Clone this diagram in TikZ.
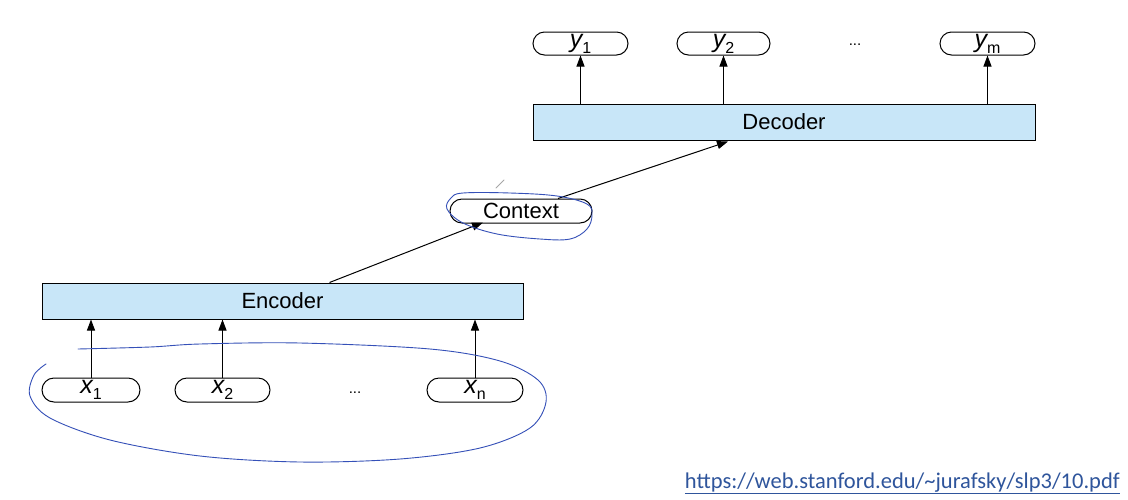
\documentclass[tikz,border=0pt]{standalone}
\usepackage{fontspec}
\setmainfont{Liberation Sans}
\newfontfamily\urlfont{Carlito}
\usetikzlibrary{arrows.meta,calc}
\definecolor{boxblue}{HTML}{C8E6F8}
\definecolor{penblue}{HTML}{3550B8}
\definecolor{linkblue}{HTML}{2F559C}
\begin{document}
\begin{tikzpicture}[x=1pt,y=-1pt,
  pill/.style={draw=black,line width=1pt,rounded corners=11.5pt,minimum height=23pt,inner sep=0pt,font=\fontsize{22}{24}\selectfont},
  bar/.style={draw=black,line width=1pt,fill=boxblue,minimum height=36pt,inner sep=0pt,font=\fontsize{22}{24}\selectfont},
  arr/.style={line width=1pt,-{Triangle[length=11pt,width=8pt]}},
  pen/.style={draw=penblue,line width=0.9pt,line cap=round,line join=round},
  dots/.style={font=\fontsize{15}{16}\selectfont}]
\useasboundingbox (0,0) rectangle (1128,499);
\fill[white] (0,0) rectangle (1128,499);
\newcommand{\lab}[2]{{\fontsize{25}{25}\selectfont\itshape #1}\raisebox{-6pt}{\fontsize{16}{16}\selectfont #2}}
% top row
\node[pill,minimum width=95pt] (y1) at (580.5,43.5) {\lab{y}{1}};
\node[pill,minimum width=93pt] (y2) at (723.5,43.5) {\lab{y}{2}};
\node[pill,minimum width=95pt] (ym) at (987.5,43.5) {\lab{y}{m}};
\node[dots] (ydots) at (855,45) {...};
\node[bar,minimum width=502pt] (dec) at (784,122) {Decoder};
% context
\node[pill,minimum width=142pt,minimum height=24pt,rounded corners=12pt] (ctx) at (521,211) {Context};
% encoder
\node[bar,minimum width=481pt] (enc) at (282.5,301) {Encoder};
\node[pill,minimum width=98pt,minimum height=24pt,rounded corners=12pt] (x1) at (91,390) {\lab{x}{1}};
\node[pill,minimum width=95pt,minimum height=24pt,rounded corners=12pt] (x2) at (222.5,390) {\lab{x}{2}};
\node[pill,minimum width=96pt,minimum height=24pt,rounded corners=12pt] (xn) at (475,390) {\lab{x}{n}};
\node[dots] (xdots) at (355,393) {...};
% arrows
\draw[arr] (dec.north -| y1) -- (y1.south);
\draw[arr] (dec.north -| y2) -- (y2.south);
\draw[arr] (dec.north -| ym) -- (ym.south);
\draw[arr] (x1.north) -- (enc.south -| x1);
\draw[arr] (x2.north) -- (enc.south -| x2);
\draw[arr] (xn.north) -- (enc.south -| xn);
\coordinate (encout) at ($(enc.north west)+(288,0)$);
\coordinate (ctxin) at ($(ctx.south)+(-38,-1)$);
\coordinate (ctxout) at ($(ctx.north)+(37,0)$);
\coordinate (decin) at ($(dec.south)+(-56,1)$);
\draw[arr] (encout) -- (ctxin);
\draw[arr] (ctxout) -- (decin);
% hand-drawn annotations
\draw[pen] plot[smooth cycle,tension=0.6] coordinates {(463,193) (510,193) (557,196) (587,204) (592,215) (587,229) (570,239) (540,239) (497,234) (463,223) (447,209) (451,198)};
\draw[pen] plot[smooth,tension=0.55] coordinates {(78,349) (150,347) (200,344) (300,343) (430,349) (500,361) (538,380) (546,402) (530,428) (480,448) (400,459) (300,462) (200,456) (110,440) (50,418) (30,396) (34,375) (46,364)};
\draw[gray!70,line width=1pt,line cap=round] (496,188) -- (504,180);
% url
\node[anchor=base east,text=linkblue,font=\urlfont\fontsize{22.5}{24}\selectfont,inner sep=0pt] (url) at (1120,488) {\underline{https://web.stanford.edu/\textasciitilde jurafsky/slp3/10.pdf}};
\end{tikzpicture}
\end{document}
